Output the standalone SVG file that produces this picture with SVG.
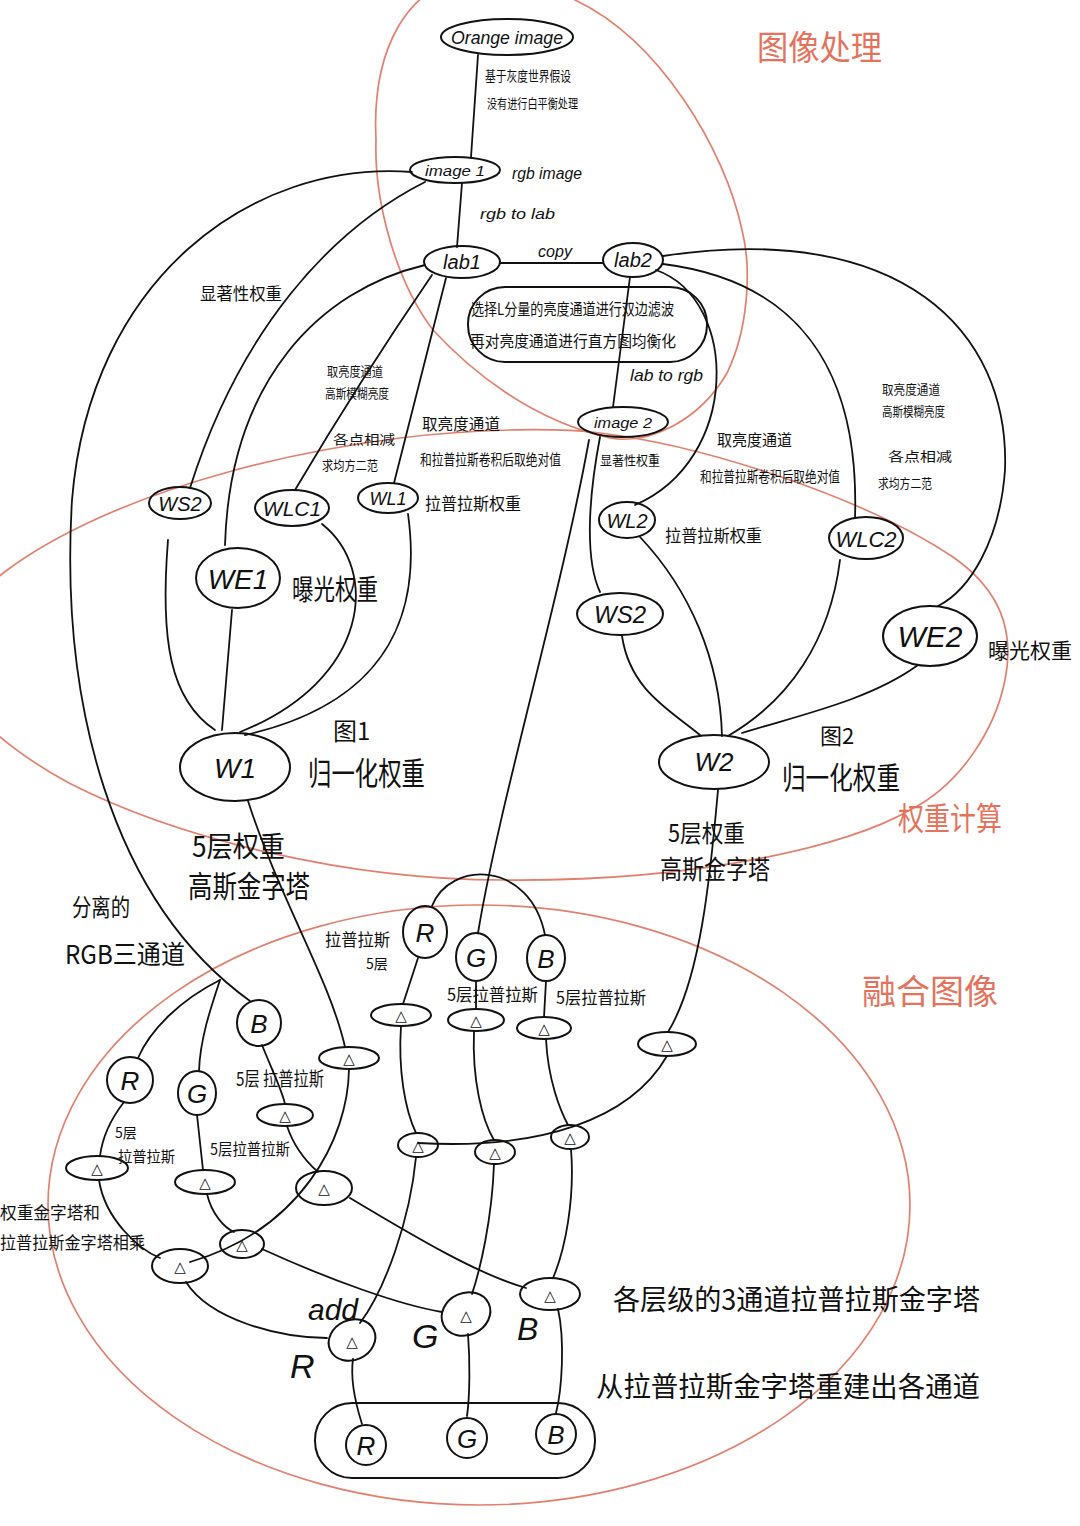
<svg xmlns="http://www.w3.org/2000/svg" width="1080" height="1526" viewBox="0 0 1080 1526">
<style>
.bg{fill:#fff}
.n{fill:none;stroke:#111;stroke-width:2}
.c{fill:none;stroke:#111;stroke-width:1.8;stroke-linecap:round}
.r{fill:none;stroke:#e2806c;stroke-width:1.7}
.lt{font-family:"Liberation Sans","DejaVu Sans",sans-serif;font-style:italic;fill:#111}
.cn{font-family:"Noto Sans CJK SC","Noto Sans CJK JP",sans-serif;fill:#111}
.rt{font-family:"Noto Sans CJK SC",sans-serif;fill:#e5735c}
.tri{font-family:"DejaVu Sans",sans-serif;fill:#111;font-size:15px;text-anchor:middle}
.m{text-anchor:middle}
</style>
<rect class="bg" x="0" y="0" width="1080" height="1526"/>

<g id="regions">
<path class="r" d="M 490 -25 C 400 -25, 372 60, 376 140 C 374 200, 395 280, 433 330 C 470 370, 530 420, 610 438 C 650 445, 700 420, 727 373 C 748 330, 752 270, 742 230 C 725 150, 660 40, 575 0 C 550 -15, 520 -25, 490 -25 Z"/>
<path class="r" d="M -40 620 C -10 560, 150 470, 400 438 C 480 428, 560 428, 600 433 C 700 445, 860 495, 953 557 C 1000 590, 1015 630, 1005 680 C 995 730, 960 785, 910 810 C 850 845, 700 882, 503 880 C 350 880, 180 840, 69 783 C 30 762, 0 740, -40 700 Z"/>
<ellipse class="r" cx="479" cy="1205" rx="431" ry="300"/>
<text class="rt" x="757" y="60" font-size="34" textLength="125" lengthAdjust="spacingAndGlyphs">图像处理</text>
<text class="rt" x="898" y="830" font-size="32" textLength="104" lengthAdjust="spacingAndGlyphs">权重计算</text>
<text class="rt" x="862" y="1004" font-size="34" textLength="136" lengthAdjust="spacingAndGlyphs">融合图像</text>
</g>

<g id="connectors">
<path class="c" d="M 478 55 L 471 157"/>
<path class="c" d="M 462 183 L 457 247"/>
<path class="c" d="M 500 263 L 603 263"/>
<path class="c" d="M 630 277 L 613 407"/>
<path class="c" d="M 412 172 C 250 160, 90 280, 72 500 C 60 700, 110 900, 250 1001"/>
<path class="c" d="M 220 980 C 180 1000, 150 1030, 138 1058"/>
<path class="c" d="M 220 980 C 210 1010, 200 1040, 199 1071"/>
<path class="c" d="M 425 182 C 330 230, 240 330, 190 488"/>
<path class="c" d="M 425 265 C 320 290, 230 380, 225 545"/>
<path class="c" d="M 432 275 Q 360 380, 295 490"/>
<path class="c" d="M 446 278 L 394 483"/>
<path class="c" d="M 168 540 C 160 640, 170 700, 215 730"/>
<path class="c" d="M 232 610 L 222 730"/>
<path class="c" d="M 322 524 C 380 570, 370 680, 240 732"/>
<path class="c" d="M 408 514 C 420 600, 400 700, 245 735"/>
<path class="c" d="M 656 270 C 740 300, 740 460, 635 505"/>
<path class="c" d="M 663 264 C 790 280, 860 360, 855 518"/>
<path class="c" d="M 663 256 C 900 220, 1010 330, 1005 470 C 1000 540, 970 590, 938 606"/>
<path class="c" d="M 600 437 C 588 500, 585 560, 600 592"/>
<path class="c" d="M 589 440 C 560 600, 500 800, 478 933"/>
<path class="c" d="M 622 636 C 630 690, 670 710, 700 735"/>
<path class="c" d="M 640 537 C 690 590, 720 660, 722 736"/>
<path class="c" d="M 840 560 C 830 640, 790 700, 728 736"/>
<path class="c" d="M 918 665 C 870 700, 800 715, 742 733"/>
<path class="c" d="M 248 801 C 280 900, 330 980, 345 1047"/>
<path class="c" d="M 718 790 C 710 880, 700 980, 668 1032"/>
<path class="c" d="M 432 906 C 450 860, 530 860, 545 935"/>
<path class="c" d="M 418 958 L 403 1004"/>
<path class="c" d="M 476 981 L 476 1009"/>
<path class="c" d="M 546 981 L 544 1017"/>
<path class="c" d="M 401 1026 C 398 1070, 405 1110, 416 1133"/>
<path class="c" d="M 474 1031 C 472 1080, 482 1120, 494 1140"/>
<path class="c" d="M 546 1039 C 548 1080, 560 1110, 568 1125"/>
<path class="c" d="M 667 1056 C 630 1120, 540 1150, 418 1143"/>
<path class="c" d="M 416 1157 C 410 1220, 385 1290, 360 1323"/>
<path class="c" d="M 494 1164 C 492 1220, 480 1270, 472 1294"/>
<path class="c" d="M 571 1149 C 575 1200, 565 1250, 553 1278"/>
<path class="c" d="M 262 1045 C 272 1070, 282 1090, 285 1104"/>
<path class="c" d="M 124 1102 C 110 1120, 102 1140, 100 1156"/>
<path class="c" d="M 197 1115 L 203 1170"/>
<path class="c" d="M 349 1069 C 348 1140, 300 1230, 190 1262"/>
<path class="c" d="M 287 1126 C 295 1150, 310 1165, 318 1172"/>
<path class="c" d="M 207 1194 C 212 1215, 225 1228, 234 1232"/>
<path class="c" d="M 99 1180 C 105 1220, 140 1250, 160 1258"/>
<path class="c" d="M 350 1198 C 420 1240, 480 1275, 526 1288"/>
<path class="c" d="M 262 1249 C 330 1280, 400 1305, 442 1312"/>
<path class="c" d="M 186 1282 C 210 1320, 280 1338, 327 1338"/>
<path class="c" d="M 353 1359 C 350 1380, 356 1405, 362 1424"/>
<path class="c" d="M 468 1334 C 470 1360, 470 1395, 467 1416"/>
<path class="c" d="M 558 1309 C 565 1340, 562 1390, 556 1413"/>
</g>

<g id="labels">
<text class="cn" x="485" y="81" font-size="14" textLength="86" lengthAdjust="spacingAndGlyphs">基于灰度世界假设</text>
<text class="cn" x="487" y="108" font-size="13" textLength="91" lengthAdjust="spacingAndGlyphs">没有进行白平衡处理</text>
<text class="lt" x="512" y="179" font-size="16" textLength="70" lengthAdjust="spacingAndGlyphs">rgb image</text>
<text class="lt" x="480" y="219" font-size="15" textLength="75" lengthAdjust="spacingAndGlyphs">rgb to lab</text>
<text class="lt" x="538" y="257" font-size="17" textLength="34" lengthAdjust="spacingAndGlyphs">copy</text>
<text class="lt" x="630" y="381" font-size="17" textLength="73" lengthAdjust="spacingAndGlyphs">lab to rgb</text>
<text class="cn" x="200" y="300" font-size="17" textLength="82" lengthAdjust="spacingAndGlyphs">显著性权重</text>
<text class="cn" x="327" y="376" font-size="13" textLength="56" lengthAdjust="spacingAndGlyphs">取亮度通道</text>
<text class="cn" x="325" y="398" font-size="13" textLength="64" lengthAdjust="spacingAndGlyphs">高斯模糊亮度</text>
<text class="cn" x="333" y="444" font-size="13" textLength="62" lengthAdjust="spacingAndGlyphs">各点相减</text>
<text class="cn" x="322" y="470" font-size="13" textLength="56" lengthAdjust="spacingAndGlyphs">求均方二范</text>
<text class="cn" x="422" y="430" font-size="16" textLength="78" lengthAdjust="spacingAndGlyphs">取亮度通道</text>
<text class="cn" x="420" y="465" font-size="15" textLength="141" lengthAdjust="spacingAndGlyphs">和拉普拉斯卷积后取绝对值</text>
<text class="cn" x="425" y="510" font-size="17" textLength="96" lengthAdjust="spacingAndGlyphs">拉普拉斯权重</text>
<text class="cn" x="292" y="600" font-size="28" textLength="86" lengthAdjust="spacingAndGlyphs">曝光权重</text>
<text class="cn" x="333" y="740" font-size="24">图1</text>
<text class="cn" x="308" y="785" font-size="32" textLength="117" lengthAdjust="spacingAndGlyphs">归一化权重</text>
<text class="cn" x="600" y="465" font-size="13" textLength="60" lengthAdjust="spacingAndGlyphs">显著性权重</text>
<text class="cn" x="717" y="446" font-size="16" textLength="75" lengthAdjust="spacingAndGlyphs">取亮度通道</text>
<text class="cn" x="700" y="482" font-size="15" textLength="140" lengthAdjust="spacingAndGlyphs">和拉普拉斯卷积后取绝对值</text>
<text class="cn" x="665" y="542" font-size="17" textLength="97" lengthAdjust="spacingAndGlyphs">拉普拉斯权重</text>
<text class="cn" x="882" y="394" font-size="13" textLength="58" lengthAdjust="spacingAndGlyphs">取亮度通道</text>
<text class="cn" x="882" y="416" font-size="13" textLength="63" lengthAdjust="spacingAndGlyphs">高斯模糊亮度</text>
<text class="cn" x="888" y="461" font-size="13" textLength="64" lengthAdjust="spacingAndGlyphs">各点相减</text>
<text class="cn" x="878" y="488" font-size="13" textLength="54" lengthAdjust="spacingAndGlyphs">求均方二范</text>
<text class="cn" x="988" y="658" font-size="21" textLength="84" lengthAdjust="spacingAndGlyphs">曝光权重</text>
<text class="cn" x="820" y="744" font-size="22">图2</text>
<text class="cn" x="782" y="789" font-size="31" textLength="118" lengthAdjust="spacingAndGlyphs">归一化权重</text>
<text class="cn" x="192" y="857" font-size="28" textLength="93" lengthAdjust="spacingAndGlyphs">5层权重</text>
<text class="cn" x="188" y="897" font-size="30" textLength="122" lengthAdjust="spacingAndGlyphs">高斯金字塔</text>
<text class="cn" x="668" y="842" font-size="24" textLength="77" lengthAdjust="spacingAndGlyphs">5层权重</text>
<text class="cn" x="660" y="879" font-size="26" textLength="110" lengthAdjust="spacingAndGlyphs">高斯金字塔</text>
<text class="cn" x="72" y="916" font-size="24" textLength="58" lengthAdjust="spacingAndGlyphs">分离的</text>
<text class="cn" x="65" y="964" font-size="26" textLength="120" lengthAdjust="spacingAndGlyphs">RGB三通道</text>
<text class="cn" x="325" y="946" font-size="17" textLength="65" lengthAdjust="spacingAndGlyphs">拉普拉斯</text>
<text class="cn" x="366" y="969" font-size="14">5层</text>
<text class="cn" x="447" y="1001" font-size="17" textLength="91" lengthAdjust="spacingAndGlyphs">5层拉普拉斯</text>
<text class="cn" x="556" y="1004" font-size="17" textLength="90" lengthAdjust="spacingAndGlyphs">5层拉普拉斯</text>
<text class="cn" x="236" y="1086" font-size="19" textLength="88" lengthAdjust="spacingAndGlyphs">5层 拉普拉斯</text>
<text class="cn" x="115" y="1138" font-size="14">5层</text>
<text class="cn" x="118" y="1162" font-size="15" textLength="57" lengthAdjust="spacingAndGlyphs">拉普拉斯</text>
<text class="cn" x="210" y="1155" font-size="16" textLength="80" lengthAdjust="spacingAndGlyphs">5层拉普拉斯</text>
<text class="cn" x="0" y="1219" font-size="17" textLength="100" lengthAdjust="spacingAndGlyphs">权重金字塔和</text>
<text class="cn" x="0" y="1249" font-size="17" textLength="145" lengthAdjust="spacingAndGlyphs">拉普拉斯金字塔相乘</text>
<text class="lt" x="308" y="1320" font-size="30">add</text>
<text class="lt" x="290" y="1378" font-size="34">R</text>
<text class="lt" x="412" y="1348" font-size="34">G</text>
<text class="lt" x="517" y="1340" font-size="32">B</text>
<text class="cn" x="613" y="1310" font-size="28" textLength="367" lengthAdjust="spacingAndGlyphs">各层级的3通道拉普拉斯金字塔</text>
<text class="cn" x="596" y="1397" font-size="28" textLength="384" lengthAdjust="spacingAndGlyphs">从拉普拉斯金字塔重建出各通道</text>
</g>

<g id="n-orange"><ellipse class="n" cx="507" cy="37" rx="66" ry="18"/><text class="lt m" x="507" y="44" font-size="19" textLength="112" lengthAdjust="spacingAndGlyphs">Orange image</text></g>
<g id="n-image1"><ellipse class="n" cx="455" cy="170" rx="45" ry="13"/><text class="lt m" x="455" y="176" font-size="15" textLength="60" lengthAdjust="spacingAndGlyphs">image 1</text></g>
<g id="n-lab1"><ellipse class="n" cx="462" cy="262" rx="38" ry="16"/><text class="lt m" x="462" y="269" font-size="20">lab1</text></g>
<g id="n-lab2"><ellipse class="n" cx="633" cy="260" rx="30" ry="17"/><text class="lt m" x="633" y="267" font-size="20">lab2</text></g>
<g id="n-filter"><rect class="n" x="468" y="287" width="239" height="75" rx="37"/>
<text class="cn" x="471" y="315" font-size="16" textLength="203" lengthAdjust="spacingAndGlyphs">选择L分量的亮度通道进行双边滤波</text>
<text class="cn" x="470" y="347" font-size="16" textLength="206" lengthAdjust="spacingAndGlyphs">再对亮度通道进行直方图均衡化</text></g>
<g id="n-image2"><ellipse class="n" cx="623" cy="422" rx="45" ry="15"/><text class="lt m" x="623" y="428" font-size="15" textLength="58" lengthAdjust="spacingAndGlyphs">image 2</text></g>
<g id="n-ws1"><ellipse class="n" cx="180" cy="503" rx="31" ry="16"/><text class="lt m" x="180" y="511" font-size="20">WS2</text></g>
<g id="n-wlc1"><ellipse class="n" cx="292" cy="508" rx="37" ry="18"/><text class="lt m" x="292" y="516" font-size="21">WLC1</text></g>
<g id="n-wl1"><ellipse class="n" cx="388" cy="498" rx="30" ry="15"/><text class="lt m" x="388" y="505" font-size="18">WL1</text></g>
<g id="n-we1"><ellipse class="n" cx="238" cy="578" rx="42" ry="30"/><text class="lt m" x="238" y="589" font-size="28">WE1</text></g>
<g id="n-w1"><ellipse class="n" cx="235" cy="767" rx="55" ry="34"/><text class="lt m" x="235" y="778" font-size="28">W1</text></g>
<g id="n-wl2"><ellipse class="n" cx="627" cy="520" rx="28" ry="18"/><text class="lt m" x="627" y="528" font-size="20">WL2</text></g>
<g id="n-wlc2"><ellipse class="n" cx="866" cy="538" rx="37" ry="21"/><text class="lt m" x="866" y="547" font-size="22">WLC2</text></g>
<g id="n-ws2"><ellipse class="n" cx="620" cy="614" rx="43" ry="21"/><text class="lt m" x="620" y="623" font-size="24">WS2</text></g>
<g id="n-we2"><ellipse class="n" cx="930" cy="636" rx="47" ry="30"/><text class="lt m" x="930" y="647" font-size="30">WE2</text></g>
<g id="n-w2"><ellipse class="n" cx="714" cy="762" rx="55" ry="27"/><text class="lt m" x="714" y="771" font-size="26">W2</text></g>

<g id="n-r2"><ellipse class="n" cx="425" cy="932" rx="22" ry="26"/><text class="lt m" x="425" y="942" font-size="26">R</text></g>
<g id="n-g2"><ellipse class="n" cx="476" cy="957" rx="20" ry="24"/><text class="lt m" x="476" y="967" font-size="26">G</text></g>
<g id="n-b2"><ellipse class="n" cx="546" cy="958" rx="19" ry="23"/><text class="lt m" x="546" y="968" font-size="26">B</text></g>
<g id="n-b1"><ellipse class="n" cx="259" cy="1023" rx="22" ry="23"/><text class="lt m" x="259" y="1033" font-size="26">B</text></g>
<g id="n-r1"><ellipse class="n" cx="130" cy="1080" rx="23" ry="23"/><text class="lt m" x="130" y="1090" font-size="26">R</text></g>
<g id="n-g1"><ellipse class="n" cx="197" cy="1093" rx="19" ry="22"/><text class="lt m" x="197" y="1103" font-size="26">G</text></g>

<g id="n-t1"><ellipse class="n" cx="401" cy="1015" rx="30" ry="11"/><text class="tri" x="401" y="1021">△</text></g>
<g id="n-t2"><ellipse class="n" cx="476" cy="1020" rx="28" ry="11"/><text class="tri" x="476" y="1026">△</text></g>
<g id="n-t3"><ellipse class="n" cx="544" cy="1028" rx="27" ry="11"/><text class="tri" x="544" y="1034">△</text></g>
<g id="n-t4"><ellipse class="n" cx="667" cy="1044" rx="29" ry="12"/><text class="tri" x="667" y="1050">△</text></g>
<g id="n-t5"><ellipse class="n" cx="418" cy="1145" rx="20" ry="12"/><text class="tri" x="418" y="1151">△</text></g>
<g id="n-t6"><ellipse class="n" cx="495" cy="1152" rx="20" ry="12"/><text class="tri" x="495" y="1158">△</text></g>
<g id="n-t7"><ellipse class="n" cx="570" cy="1137" rx="19" ry="12"/><text class="tri" x="570" y="1143">△</text></g>
<g id="n-t8"><ellipse class="n" cx="349" cy="1058" rx="30" ry="11"/><text class="tri" x="349" y="1064">△</text></g>
<g id="n-t9"><ellipse class="n" cx="285" cy="1115" rx="28" ry="11"/><text class="tri" x="285" y="1121">△</text></g>
<g id="n-t10"><ellipse class="n" cx="97" cy="1168" rx="31" ry="12"/><text class="tri" x="97" y="1174">△</text></g>
<g id="n-t11"><ellipse class="n" cx="205" cy="1182" rx="30" ry="12"/><text class="tri" x="205" y="1188">△</text></g>
<g id="n-t12"><ellipse class="n" cx="324" cy="1188" rx="28" ry="17"/><text class="tri" x="324" y="1194">△</text></g>
<g id="n-t13"><ellipse class="n" cx="242" cy="1244" rx="22" ry="14"/><text class="tri" x="242" y="1250">△</text></g>
<g id="n-t14"><ellipse class="n" cx="180" cy="1266" rx="28" ry="17"/><text class="tri" x="180" y="1272">△</text></g>
<g id="n-t15"><ellipse class="n" cx="352" cy="1340" rx="24" ry="20" transform="rotate(-25 352 1340)"/><text class="tri" x="352" y="1347" font-size="18">△</text></g>
<g id="n-t16"><ellipse class="n" cx="466" cy="1314" rx="25" ry="21" transform="rotate(-25 466 1314)"/><text class="tri" x="466" y="1321" font-size="18">△</text></g>
<g id="n-t17"><ellipse class="n" cx="550" cy="1294" rx="30" ry="16"/><text class="tri" x="550" y="1301" font-size="18">△</text></g>

<g id="n-out"><rect class="n" x="315" y="1403" width="280" height="75" rx="37"/></g>
<g id="n-ro"><circle class="n" cx="366" cy="1445" r="20"/><text class="lt m" x="366" y="1455" font-size="26">R</text></g>
<g id="n-go"><circle class="n" cx="467" cy="1438" r="20"/><text class="lt m" x="467" y="1448" font-size="26">G</text></g>
<g id="n-bo"><circle class="n" cx="556" cy="1434" r="20"/><text class="lt m" x="556" y="1444" font-size="26">B</text></g>
</svg>
